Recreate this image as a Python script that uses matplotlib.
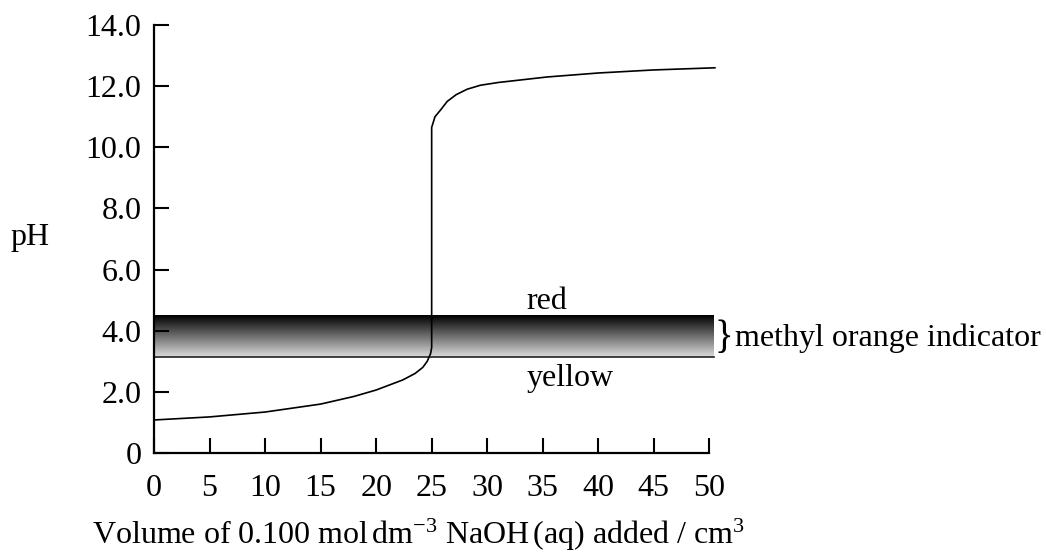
import matplotlib
matplotlib.use("Agg")
import matplotlib.pyplot as plt
import numpy as np

# titration curve
volume = [0, 5, 10, 15, 18, 20, 22.4, 23.5, 24.2, 24.6, 24.9, 25.0,
          25.0, 25.3, 25.8, 26.4, 27.2, 28.2, 29.4, 31.0, 35.4, 40.0, 45.0, 50.5]
ph = [1.08, 1.18, 1.34, 1.6, 1.85, 2.06, 2.39, 2.6, 2.8, 3.0, 3.25, 3.45,
      10.65, 11.0, 11.22, 11.5, 11.72, 11.9, 12.03, 12.12, 12.3, 12.43, 12.53, 12.6]

x_ticks = [0, 5, 10, 15, 20, 25, 30, 35, 40, 45, 50]
y_ticks = [0, 2, 4, 6, 8, 10, 12, 14]
y_tick_labels = ["0", "2.0", "4.0", "6.0", "8.0", "10.0", "12.0", "14.0"]

band_low, band_high = 3.15, 4.5     # methyl orange range
band_end = 50.4

plt.rcParams['font.family'] = ['Liberation Serif', 'DejaVu Serif']
plt.rcParams['mathtext.fontset'] = 'custom'
plt.rcParams['mathtext.rm'] = 'Liberation Serif'
plt.rcParams['mathtext.it'] = 'Liberation Serif:italic'

fs = 23
fig = plt.figure(figsize=(10.46, 5.52), dpi=100)
ax = fig.add_axes([154 / 1046, 99 / 552, 562 / 1046, 428 / 552])

# gradient band, black on top fading to light grey
grad = np.linspace(0.86, 0.0, 200).reshape(-1, 1)
ax.imshow(grad, extent=[0, band_end, band_low, band_high], origin='lower',
          aspect='auto', cmap='gray', vmin=0, vmax=1, zorder=1)
ax.plot([0, band_end], [band_low, band_low], color='#222222', lw=1.2, zorder=2)

ax.plot(volume, ph, color='black', lw=1.2, zorder=3)

ax.set_xlim(0, 50.6)
ax.set_ylim(0, 14)
ax.spines['top'].set_visible(False)
ax.spines['right'].set_visible(False)
ax.spines['bottom'].set_bounds(0, 50)
for s in ('left', 'bottom'):
    ax.spines[s].set_linewidth(1.6)

ax.set_xticks(x_ticks)
ax.set_yticks(y_ticks)
ax.set_yticklabels(y_tick_labels)
ax.tick_params(axis='both', direction='in', length=11, width=1.5,
               labelsize=fs, colors='black')
ax.tick_params(axis='x', pad=15)
ax.tick_params(axis='y', pad=9)

ax.text(33.5, 4.94, "red", fontsize=fs, va='center', ha='left')
ax.text(33.5, 2.45, "yellow", fontsize=fs, va='center', ha='left')
ax.text(50.45, 3.75, "}", fontsize=28, va='center', ha='left', clip_on=False)
ax.text(52.3, 3.75, "methyl orange indicator", fontsize=fs, va='center',
        ha='left', clip_on=False)

fig.text(10 / 1046, 1 - 238 / 552, "pH", fontsize=fs, va='center', ha='left')
fig.text(418 / 1046, 8 / 552,
         r"Volume of 0.100 mol$\,$dm$^{-3}$ NaOH$\,$(aq) added / cm$^{3}$",
         fontsize=fs, va='baseline', ha='center')

fig.savefig("out.png", dpi=100)
